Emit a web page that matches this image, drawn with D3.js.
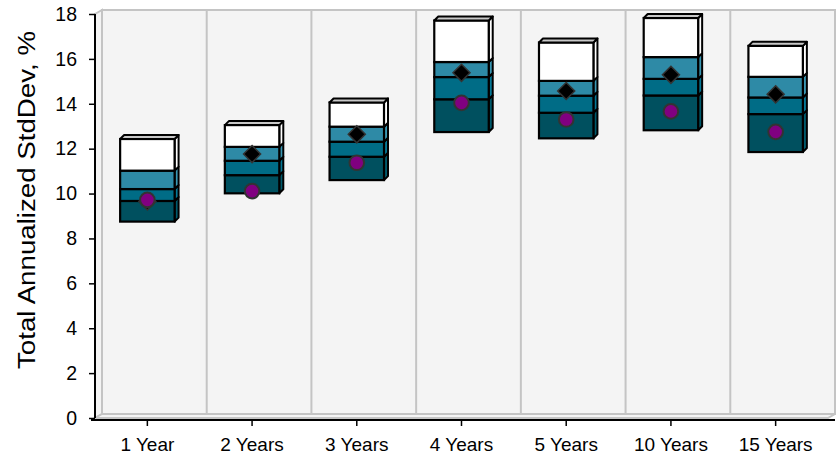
<!DOCTYPE html>
<html><head><meta charset="utf-8">
<script src="https://cdn.jsdelivr.net/npm/d3@7"></script>
<style>body{margin:0;background:#fff}svg{display:block}text{font-family:"Liberation Sans",Arial,sans-serif}</style>
</head><body>
<script>
const categories = ["1 Year","2 Years","3 Years","4 Years","5 Years","10 Years","15 Years"];
const p5  = [8.75, 10.01, 10.60, 12.74, 12.46, 12.82, 11.85];
const p25 = [9.67, 10.82, 11.64, 14.20, 13.60, 14.37, 13.54];
const p50 = [10.20, 11.46, 12.31, 15.19, 14.36, 15.11, 14.28];
const p75 = [11.02, 12.08, 12.98, 15.86, 15.02, 16.08, 15.20];
const p95 = [12.43, 13.05, 14.06, 17.71, 16.73, 17.82, 16.58];
const diamondVals = [9.65, 11.76, 12.64, 15.38, 14.57, 15.29, 14.42];
const circleVals  = [9.72, 10.11, 11.37, 14.04, 13.30, 13.66, 12.75];
const yTicks = [0,2,4,6,8,10,12,14,16,18];
const yTitle = "Total Annualized StdDev, %";

const W = 836, H = 460;
const svg = d3.select("body").append("svg").attr("width", W).attr("height", H);

const x = d3.scaleBand().domain(categories).range([95, 828]).paddingInner(0).paddingOuter(0);
const y = d3.scaleLinear().domain([0, 18]).range([418, 14]);

const wallDx = 7, wallDy = -4;
const wallFill = "#f4f4f4", wallStroke = "#c4c4c4";
const x0 = x.range()[0], x1 = x.range()[1];
const yb = y(0), yt = y(18);

// side wall
svg.append("polygon")
  .attr("points", [[x0,yt],[x0+wallDx,yt+wallDy],[x0+wallDx,yb+wallDy],[x0,yb]].map(p=>p.join(",")).join(" "))
  .attr("fill", wallFill).attr("stroke", wallStroke).attr("stroke-width", 2);
// floor
svg.append("polygon")
  .attr("points", [[x0,yb],[x1,yb],[x1+wallDx,yb+wallDy],[x0+wallDx,yb+wallDy]].map(p=>p.join(",")).join(" "))
  .attr("fill", wallFill).attr("stroke", wallStroke).attr("stroke-width", 2);
// back wall
svg.append("rect")
  .attr("x", x0+wallDx).attr("y", yt+wallDy).attr("width", x1-x0).attr("height", yb-yt)
  .attr("fill", wallFill).attr("stroke", wallStroke).attr("stroke-width", 2);
// vertical gridlines on back wall
svg.append("g").selectAll("line").data(categories.slice(1)).join("line")
  .attr("x1", d => x(d)+wallDx).attr("x2", d => x(d)+wallDx)
  .attr("y1", yt+wallDy).attr("y2", yb+wallDy)
  .attr("stroke", wallStroke).attr("stroke-width", 2);

// axes
const yAxis = svg.append("g").attr("transform", `translate(${x0},0)`)
  .call(d3.axisLeft(y).tickValues(yTicks).tickSize(6).tickPadding(12).tickFormat(d3.format("d")));
yAxis.select(".domain").attr("d", `M0,${yt}V${yb}`).attr("stroke","#000").attr("stroke-width",2);
yAxis.selectAll(".tick line").attr("stroke","#000").attr("stroke-width",1.5);
yAxis.selectAll(".tick text").attr("font-size", 19.5).attr("fill","#000");

const xAxis = svg.append("g").attr("transform", `translate(0,${yb+2})`)
  .call(d3.axisBottom(x).tickSize(6).tickPadding(12));
xAxis.select(".domain").attr("d", `M${x0-4},0H${x1+wallDx}`).attr("stroke","#000").attr("stroke-width",2);
xAxis.selectAll(".tick line").attr("stroke","#000").attr("stroke-width",1.5);
xAxis.selectAll(".tick text").attr("font-size", 19).attr("fill","#000");

svg.append("text")
  .attr("transform", `translate(35,${(yt+yb)/2 - 16}) rotate(-90)`)
  .attr("text-anchor", "middle")
  .attr("font-size", 23)
  .attr("textLength", 338).attr("lengthAdjust", "spacingAndGlyphs")
  .text(yTitle);

// 3D stacked bars
const bw = x.bandwidth() * 0.52;
const dx = 4, dy = -4;
const segColors = ["#00505f", "#006c86", "#2e8aa6", "#ffffff"];
const sideColors = ["#005a6c", "#067896", "#3a97b3", "#ffffff"];
const topColor = "#c8c8c8";

const bars = svg.append("g").selectAll("g").data(categories).join("g");
bars.each(function(cat, i) {
  const g = d3.select(this);
  const cx = x(cat) + x.bandwidth()/2;
  const lx = cx - bw/2, rx = cx + bw/2;
  const bounds = [p5[i], p25[i], p50[i], p75[i], p95[i]];
  for (let s = 0; s < 4; s++) {
    const yl = y(bounds[s]), yh = y(bounds[s+1]);
    g.append("polygon")
      .attr("points", [[rx,yh],[rx+dx,yh+dy],[rx+dx,yl+dy],[rx,yl]].map(p=>p.join(",")).join(" "))
      .attr("fill", sideColors[s]).attr("stroke", "#000").attr("stroke-width", 2).attr("stroke-linejoin","round");
    g.append("rect")
      .attr("x", lx).attr("y", yh).attr("width", bw).attr("height", yl - yh)
      .attr("fill", segColors[s]).attr("stroke", "#000").attr("stroke-width", 2.2);
  }
  const ty = y(bounds[4]);
  g.append("polygon")
    .attr("points", [[lx,ty],[lx+dx,ty+dy],[rx+dx,ty+dy],[rx,ty]].map(p=>p.join(",")).join(" "))
    .attr("fill", topColor).attr("stroke", "#000").attr("stroke-width", 2).attr("stroke-linejoin","round");
});

// markers
svg.append("g").selectAll("path").data(categories).join("path")
  .attr("d", d3.symbol().type(d3.symbolDiamond2).size(185))
  .attr("transform", (d,i) => `translate(${x(d)+x.bandwidth()/2},${y(diamondVals[i])})`)
  .attr("fill", "#000").attr("stroke", "#333").attr("stroke-width", 1.5);
svg.append("g").selectAll("circle").data(categories).join("circle")
  .attr("cx", d => x(d)+x.bandwidth()/2)
  .attr("cy", (d,i) => y(circleVals[i]))
  .attr("r", 7.3)
  .attr("fill", "#800080").attr("stroke", "#333").attr("stroke-width", 2);
</script>
</body></html>
